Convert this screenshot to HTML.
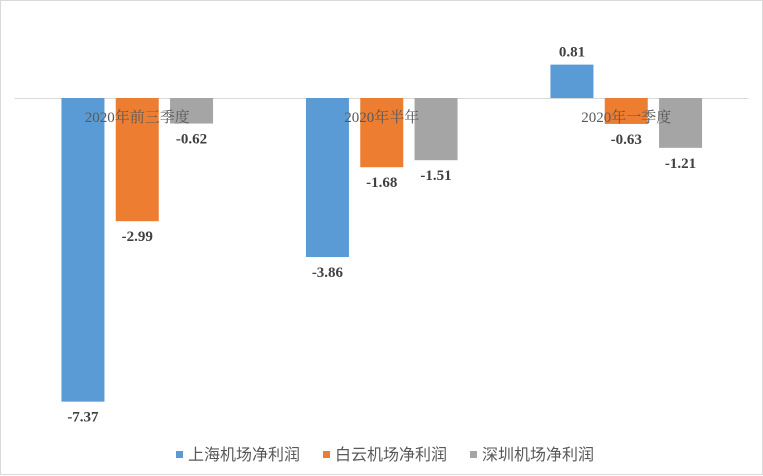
<!DOCTYPE html>
<html><head><meta charset="utf-8"><style>
body{margin:0;background:#fff}
svg{display:block;font-family:"Liberation Serif","Noto Serif CJK SC",serif}
.leg{font-family:"Liberation Sans","Noto Sans CJK SC",sans-serif;font-size:16px;fill:#595959}
</style></head><body>
<svg width="763" height="476">
<rect x="0.5" y="0.5" width="762" height="474" fill="#fff" stroke="#d9d9d9"/>
<g id="plot"></g>
<g>
<rect x="176" y="451" width="7" height="7" fill="#5b9bd5"/>
<text class="leg" x="188" y="460">上海机场净利润</text>
<rect x="323" y="451" width="7" height="7" fill="#ed7d31"/>
<text class="leg" x="335" y="460">白云机场净利润</text>
<rect x="470" y="451" width="7" height="7" fill="#a5a5a5"/>
<text class="leg" x="482" y="460">深圳机场净利润</text>
</g>
</svg>
<script>
const categories=["2020年前三季度","2020年半年","2020年一季度"];
const shanghai=[-7.37,-3.86,0.81];
const baiyun=[-2.99,-1.68,-0.63];
const shenzhen=[-0.62,-1.51,-1.21];
const seriesNames=["shanghai","baiyun","shenzhen"];
const colors=["#5b9bd5","#ed7d31","#a5a5a5"];
const NS="http://www.w3.org/2000/svg";
const g=document.getElementById("plot");
const zeroY=98,scale=41.2,left=15,groupW=244.5,barW=43,step=54.3;
function y(v){return zeroY-v*scale;}
function gx(i){return left+groupW*(i+0.5);}
const all=[shanghai,baiyun,shenzhen];
const ax=document.createElementNS(NS,"line");
ax.setAttribute("x1",left);ax.setAttribute("x2",left+groupW*3);
ax.setAttribute("y1",zeroY+0.5);ax.setAttribute("y2",zeroY+0.5);
ax.setAttribute("stroke","#d9d9d9");


g.appendChild(ax);
all.forEach((arr,s)=>{
 arr.forEach((v,i)=>{
  const cx=gx(i)+(s-1)*step;
  const r=document.createElementNS(NS,"rect");
  r.setAttribute("x",cx-barW/2);r.setAttribute("width",barW);
  r.setAttribute("y",Math.min(y(v),zeroY));r.setAttribute("height",Math.abs(y(v)-zeroY));
  r.setAttribute("fill",colors[s]);
  
  
  g.appendChild(r);
  const t=document.createElementNS(NS,"text");
  t.setAttribute("x",cx);t.setAttribute("text-anchor","middle");
  t.setAttribute("y",v<0?y(v)+20:y(v)-8);
  t.setAttribute("font-size","15");t.setAttribute("font-weight","bold");t.setAttribute("fill","#404040");
  t.textContent=v.toFixed(2);
  
  
  g.appendChild(t);
 });
});
categories.forEach((c,i)=>{
 const t=document.createElementNS(NS,"text");
 t.setAttribute("x",gx(i));t.setAttribute("y",122);t.setAttribute("text-anchor","middle");
 t.setAttribute("font-size","15");t.setAttribute("fill","#595959");
 t.textContent=c;
 
 
 g.appendChild(t);
});
</script>
</body></html>
